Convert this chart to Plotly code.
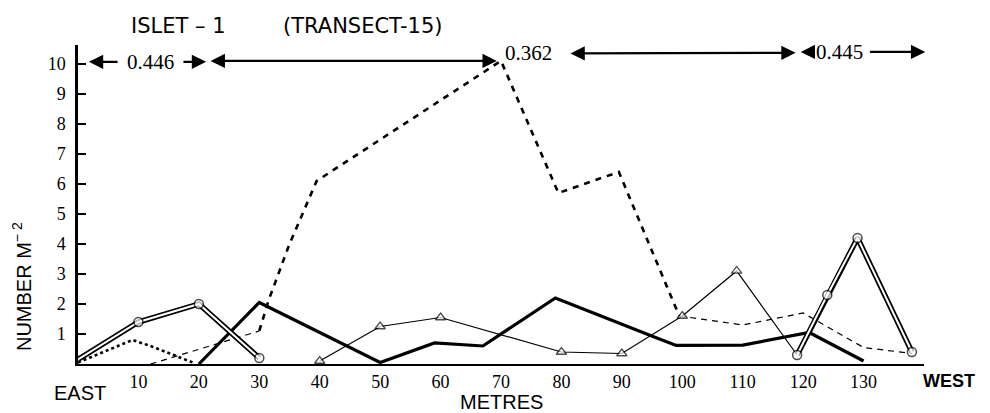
import plotly.graph_objects as go

# ---- data (metres along transect, number per m^2) ----
double_x = [0, 10, 20, 30, 75, 119, 124, 129, 138]
double_y = [0.15, 1.4, 2.0, 0.2, None, 0.3, 2.3, 4.2, 0.4]

thick_x = [20, 30, 50, 59, 67, 79, 96, 99, 110, 121, 130]
thick_y = [0.0, 2.05, 0.05, 0.7, 0.6, 2.2, 0.85, 0.62, 0.63, 1.05, 0.1]

tri_x = [40, 50, 60, 80, 90, 100, 109, 119]
tri_y = [0.1, 1.25, 1.55, 0.4, 0.35, 1.6, 3.1, 0.3]

dot_x = [0, 9, 12, 19]
dot_y = [0.05, 0.8, 0.6, 0.05]

dash_x = [12, 30, 31.5, 35, 39.5, 70, 79.5, 89.5, 99.5, 110, 120, 130, 138]
dash_y = [0.0, 1.1, 2.1, 4.0, 6.1, 10.1, 5.7, 6.4, 1.6, 1.3, 1.7, 0.55, 0.35]

x_ticks = [10, 20, 30, 40, 50, 60, 70, 80, 90, 100, 110, 120, 130]
y_ticks = [1, 2, 3, 4, 5, 6, 7, 8, 9, 10]

zone_values = ["0.446", "0.362", "0.445"]
zone_label_x = [12, 74.5, 126.0]
zone_label_y = [10.07, 10.35, 10.4]

SERIF = "Liberation Serif"
SANS = "Liberation Sans"
WIDE = "DejaVu Sans"
YMAX = 10.63

fig = go.Figure()

fig.add_trace(go.Scatter(x=dash_x[:2], y=dash_y[:2], mode="lines",
                         line=dict(color="black", width=1.2, dash="6px,5px")))
fig.add_trace(go.Scatter(x=dash_x[8:], y=dash_y[8:], mode="lines",
                         line=dict(color="black", width=1.2, dash="6px,5px")))
fig.add_trace(go.Scatter(x=dash_x[1:9], y=dash_y[1:9], mode="lines",
                         line=dict(color="black", width=2.6, dash="6px,6px")))
fig.add_trace(go.Scatter(x=dot_x, y=dot_y, mode="lines",
                         line=dict(color="black", width=2.6, dash="dot")))
fig.add_trace(go.Scatter(x=thick_x, y=thick_y, mode="lines",
                         line=dict(color="black", width=3.2)))
fig.add_trace(go.Scatter(x=tri_x, y=tri_y, mode="lines+markers",
                         line=dict(color="black", width=1.2),
                         marker=dict(symbol="triangle-up", size=[9]*7 + [0],
                                     color="white",
                                     line=dict(color="black", width=1.3))))
fig.add_trace(go.Scatter(x=double_x, y=double_y, mode="lines",
                         line=dict(color="black", width=5.5)))
fig.add_trace(go.Scatter(x=double_x, y=double_y, mode="lines+markers",
                         line=dict(color="white", width=2),
                         marker=dict(symbol="circle", size=[0] + [9]*8,
                                     color="white",
                                     line=dict(color="black", width=1.5))))

ann = []
arrow_kw = dict(xref="x", yref="y", axref="x", ayref="y", text="",
                showarrow=True, arrowhead=2, arrowsize=1.3, arrowwidth=2.2,
                arrowcolor="black")
ann.append(dict(x=1.8, y=10.07, ax=6.8, ay=10.07, **arrow_kw))
ann.append(dict(x=21.2, y=10.07, ax=17.2, ay=10.07, **arrow_kw))
ann.append(dict(x=69.3, y=10.1, ax=21.7, ay=10.1, arrowside="end+start", **arrow_kw))
ann.append(dict(x=81.5, y=10.35, ax=119.0, ay=10.37, arrowside="end+start", **arrow_kw))
ann.append(dict(x=119.6, y=10.4, ax=121.6, ay=10.4, **arrow_kw))
ann.append(dict(x=140.2, y=10.4, ax=130.8, ay=10.4, **arrow_kw))
for v, xx, yy in zip(zone_values, zone_label_x, zone_label_y):
    ann.append(dict(x=xx, y=yy, xref="x", yref="y", text=v, showarrow=False,
                    xanchor="center", yanchor="middle",
                    font=dict(family=SERIF, size=21, color="black")))

def px(m):
    return m / 140.0

def py(v):
    return v / YMAX

txt_kw = dict(xref="paper", yref="paper", showarrow=False,
              xanchor="center", yanchor="middle")
ann.append(dict(x=px(16.6), y=py(11.25), text="ISLET – 1",
                font=dict(family=WIDE, size=21, color="black"), **txt_kw))
ann.append(dict(x=px(47.2), y=py(11.25), text="(TRANSECT-15)",
                font=dict(family=WIDE, size=21, color="black"), **txt_kw))
ann.append(dict(x=-0.066, y=py(2.57), text="NUMBER M<sup>− 2</sup>", textangle=-90,
                font=dict(family=SANS, size=20, color="black"), **txt_kw))
ann.append(dict(x=px(70), y=py(-1.25), text="METRES",
                font=dict(family=SANS, size=20, color="black"), **txt_kw))
ann.append(dict(x=px(0.3), y=py(-0.97), text="EAST",
                font=dict(family=SANS, size=20, color="black"), **txt_kw))
ann.append(dict(x=px(144.2), y=py(-0.57), text="<b>WEST</b>",
                font=dict(family=SANS, size=18, color="black"), **txt_kw))

fig.update_layout(
    width=982, height=405,
    margin=dict(l=70, r=66, t=37, b=49),
    paper_bgcolor="white", plot_bgcolor="white",
    showlegend=False,
    annotations=ann,
    xaxis=dict(range=[0, 140], tickvals=x_ticks, ticktext=[str(t) for t in x_ticks],
               showgrid=False, zeroline=False, showline=True, linecolor="black",
               linewidth=2, ticks="", ticklabelstandoff=0,
               tickfont=dict(family=SERIF, size=18, color="black")),
    yaxis=dict(range=[0, YMAX], tickvals=y_ticks, ticktext=[str(t) for t in y_ticks],
               showgrid=False, zeroline=False, showline=True, linecolor="black",
               linewidth=2.5, ticks="inside", ticklen=8, tickwidth=2,
               tickcolor="black", ticklabelstandoff=6,
               tickfont=dict(family=SERIF, size=18, color="black")),
)

fig.write_html("out.html")
